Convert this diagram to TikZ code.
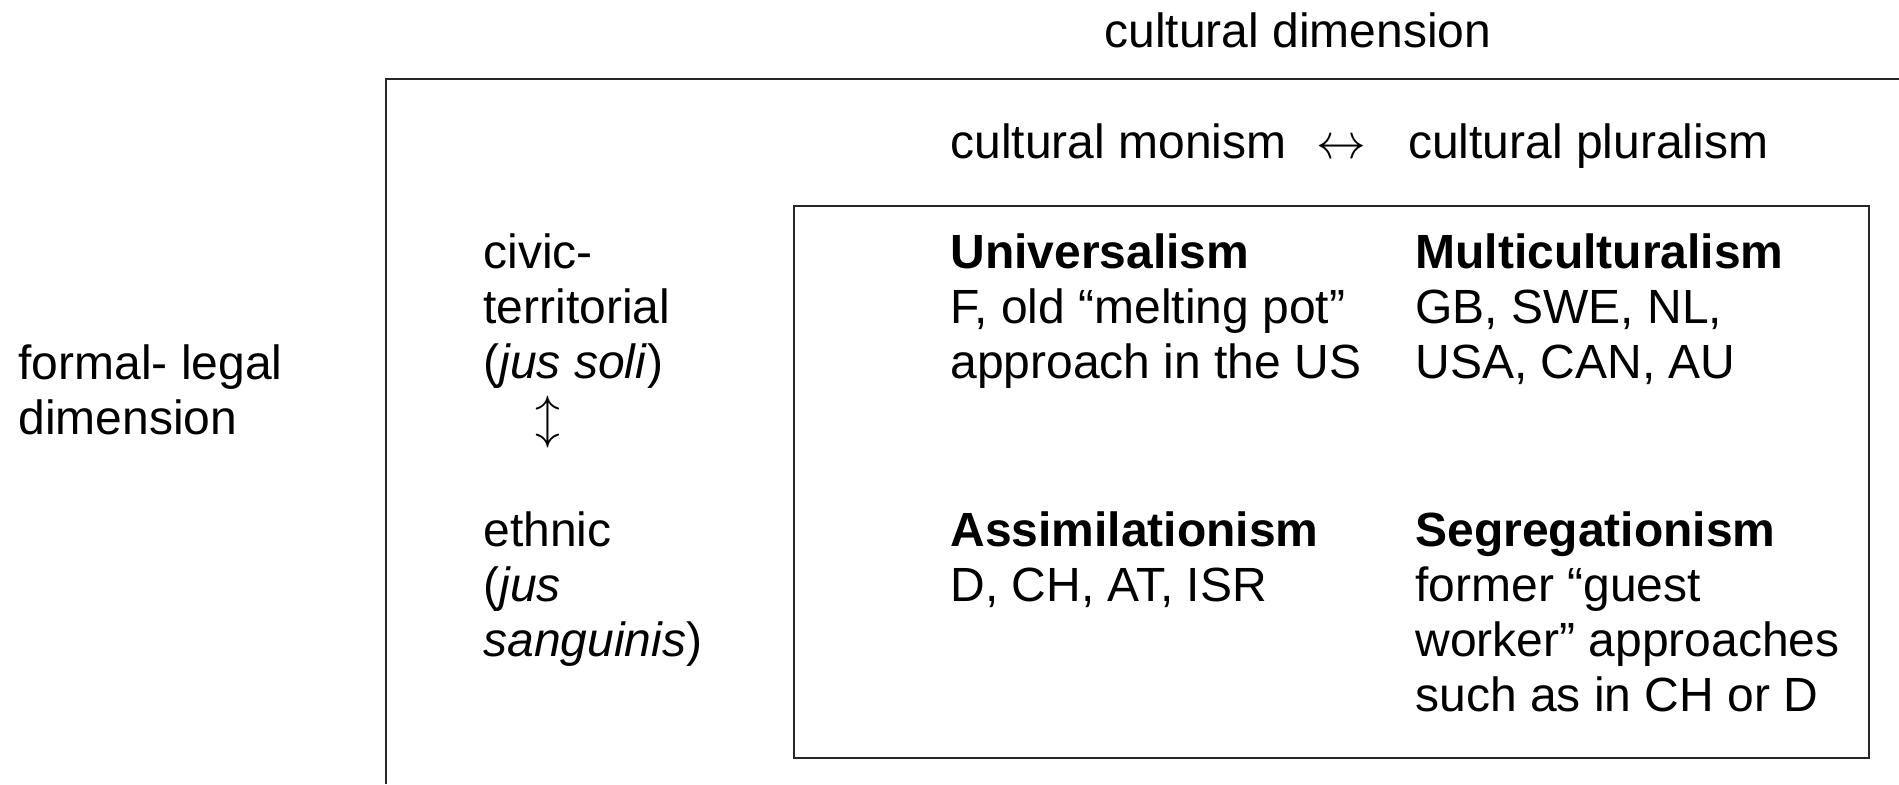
\documentclass[tikz,border=0pt]{standalone}
\usepackage{fontspec}
\setmainfont{Liberation Sans}

\begin{document}
\begin{tikzpicture}[x=0.5pt,y=-0.5pt,
    txt/.style={anchor=base west,inner sep=0pt,align=left,font=\fontsize{24}{27.5}\selectfont},
    frame/.style={line width=1pt,draw=black!85}]
    \useasboundingbox (0,0) rectangle (1899,784);
    \draw[frame] (1899,79) -- (386,79) -- (386,784);
    \draw[frame] (794,206) rectangle (1869,758);
    \node[txt] (cultdim) at (1104,47) {cultural dimension};
    \node[txt] (legaldim) at (18,434) {formal- legal\\dimension};
    \node[txt] (monism) at (950,158) {cultural monism\hspace{15pt}$\leftrightarrow$\hspace{21pt}cultural pluralism};
    \node[txt] (civic) at (483,378) {civic-\\territorial\\(\emph{jus soli})};
    \node[inner sep=0pt,font=\fontsize{24}{27.5}\selectfont] (updown) at (548,422) {$\updownarrow$};
    \node[txt] (ethnic) at (483,656) {ethnic\\(\emph{jus}\\\emph{sanguinis})};
    \node[txt] (univ) at (950,378) {\textbf{Universalism}\\F, old “melting pot”\\approach in the US};
    \node[txt] (multi) at (1415,378) {\textbf{Multiculturalism}\\GB, SWE, NL,\\USA, CAN, AU};
    \node[txt] (assim) at (950,601) {\textbf{Assimilationism}\\D, CH, AT, ISR};
    \node[txt] (segreg) at (1415,711) {\textbf{Segregationism}\\former “guest\\worker” approaches\\such as in CH or D};
\end{tikzpicture}
\end{document}
